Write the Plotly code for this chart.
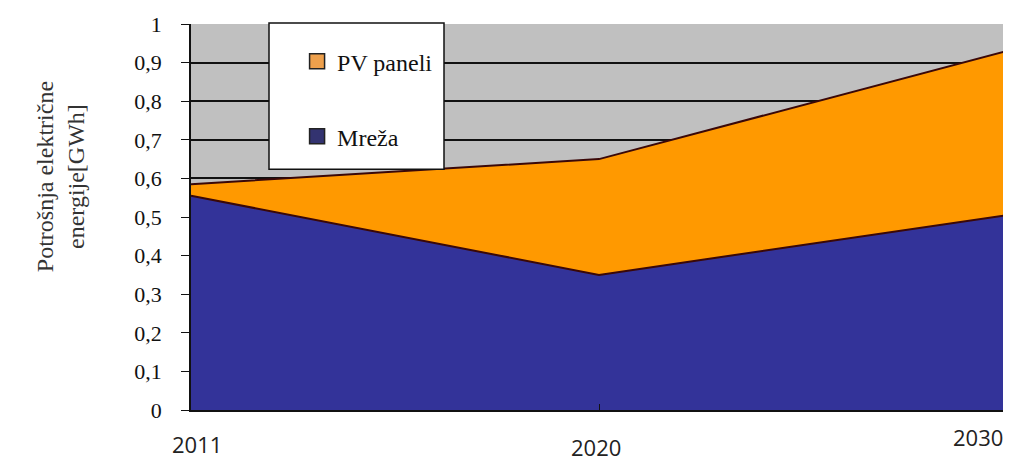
import plotly.graph_objects as go

years = ["2011", "2020", "2030"]
mreza = [0.555, 0.35, 0.505]
pv_paneli = [0.03, 0.30, 0.425]
y_tickvals = [0, 0.1, 0.2, 0.3, 0.4, 0.5, 0.6, 0.7, 0.8, 0.9, 1.0]
y_ticktext = ["0", "0,1", "0,2", "0,3", "0,4", "0,5", "0,6", "0,7", "0,8", "0,9", "1"]

# label placement (paper y of label centres, horizontal anchor / shift)
x_label_y = [-0.088, -0.096, -0.07]
x_label_anchor = ["center", "center", "right"]
x_label_xshift = [6, -3, -2]

edge = "#3a0808"
serif = "Liberation Serif"
sans = "Open Sans"

fig = go.Figure()
fig.add_trace(go.Scatter(
    x=years, y=mreza, name="Mreža", stackgroup="one", mode="lines",
    line=dict(color=edge, width=2), fillcolor="#333399", showlegend=False,
))
fig.add_trace(go.Scatter(
    x=years, y=pv_paneli, name="PV paneli", stackgroup="one", mode="lines",
    line=dict(color=edge, width=2), fillcolor="#ff9900", showlegend=False,
))
# legend entries (square swatches)
fig.add_trace(go.Scatter(
    x=[None], y=[None], name="PV paneli", mode="markers", legendrank=1, legendgroup="b",
    marker=dict(symbol="square", size=15, color="#eea04c", line=dict(color="#222222", width=1.5)),
))
fig.add_trace(go.Scatter(
    x=[None], y=[None], name="Mreža", mode="markers", legendrank=2, legendgroup="a",
    marker=dict(symbol="square", size=15, color="#333370", line=dict(color="#222222", width=1.5)),
))

for i, yr in enumerate(years):
    fig.add_annotation(
        x=i, y=x_label_y[i], xref="x", yref="paper", yanchor="middle",
        xanchor=x_label_anchor[i], xshift=x_label_xshift[i],
        text=yr, showarrow=False,
        font=dict(family=sans, size=22, color="#222222"),
    )

fig.add_annotation(
    xref="paper", yref="paper", x=(60 - 191) / 816, y=(410 - 176) / 388,
    xanchor="center", yanchor="middle",
    text="Potrošnja električne<br>energije[GWh]", textangle=-90, showarrow=False,
    font=dict(family=serif, size=24, color="#333333"),
)

# legend box
fig.add_shape(type="rect", xref="paper", yref="paper",
              x0=(269 - 191) / 816, x1=(444 - 191) / 816,
              y0=(410 - 168) / 388, y1=(410 - 21) / 388,
              fillcolor="white", line=dict(color="#111111", width=1.5), layer="above")

fig.update_layout(
    width=1003, height=453,
    margin=dict(l=183, r=4, t=14, b=51),
    paper_bgcolor="white", plot_bgcolor="#c0c0c0",
    showlegend=True,
    legend=dict(
        x=0.13, y=0.961, xanchor="left", yanchor="top",
        bgcolor="rgba(0,0,0,0)", borderwidth=0,
        traceorder="grouped", tracegroupgap=41,
        font=dict(family=serif, size=24, color="#111111"),
        itemwidth=30,
    ),
    xaxis=dict(
        type="category", range=[0, 2], showticklabels=False,
        showgrid=False, zeroline=False, showline=True, linecolor="#111111", linewidth=1.5,
        ticks="inside", ticklen=6, tickcolor="#111111",
    ),
    yaxis=dict(
        range=[0, 1], tickvals=y_tickvals, ticktext=y_ticktext,
        showgrid=True, gridcolor="#111111", gridwidth=1.5,
        zeroline=False, showline=True, linecolor="#111111", linewidth=1.5,
        ticks="outside", ticklen=8, tickcolor="#111111", ticklabelstandoff=15,
        tickfont=dict(family=serif, size=22, color="#111111"),
    ),
)

fig.write_html("out.html")
